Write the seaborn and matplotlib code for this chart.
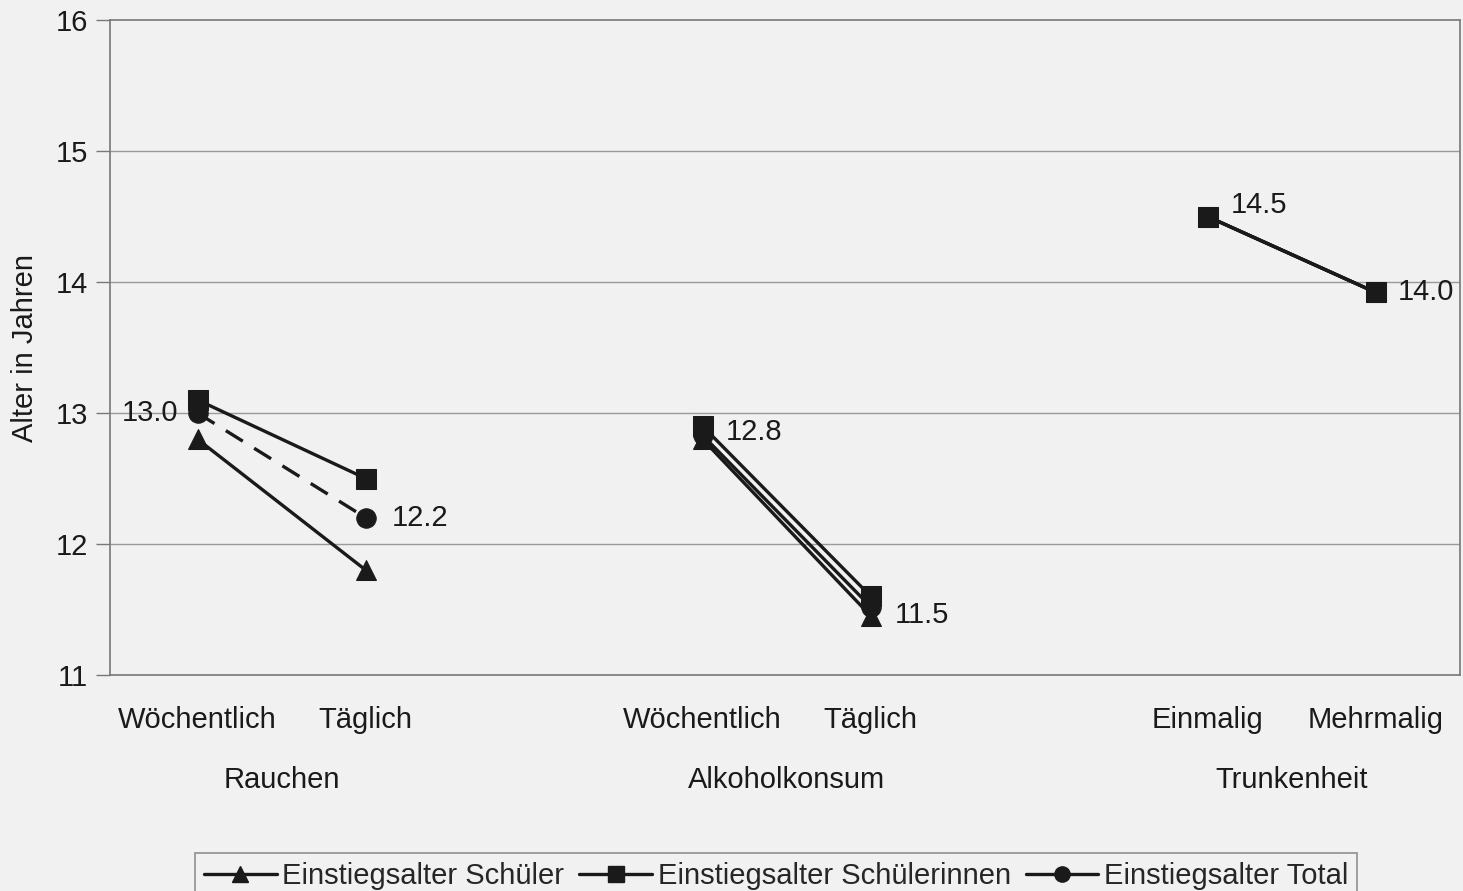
import matplotlib
matplotlib.use("Agg")
import matplotlib.pyplot as plt
import matplotlib.transforms as mtransforms
from matplotlib.lines import Line2D
import seaborn as sns
import pandas as pd

# ---- data ----
groups = ["Rauchen", "Alkoholkonsum", "Trunkenheit"]
categories = [["Wöchentlich", "Täglich"], ["Wöchentlich", "Täglich"], ["Einmalig", "Mehrmalig"]]
series = ["Einstiegsalter Schüler", "Einstiegsalter Schülerinnen", "Einstiegsalter Total"]
schueler = [12.8, 11.8, 12.8, 11.45, 14.5, 13.92]
schuelerinnen = [13.1, 12.5, 12.9, 11.6, 14.5, 13.92]
total = [13.0, 12.2, 12.83, 11.52, 14.5, 13.92]
labels_text = ["13.0", "12.2", "12.8", "11.5", "14.5", "14.0"]
yticks = [11, 12, 13, 14, 15, 16]

sns.set_theme(style="white")
plt.rcParams["font.family"] = ["Liberation Sans", "DejaVu Sans"]

bg = "#f1f1f1"
FS = 21
fig = plt.figure(figsize=(14.63, 8.91), dpi=100, facecolor=bg)
W, H = 1463, 891
ax = fig.add_axes([110 / W, (H - 675) / H, (1460 - 110) / W, 655 / H])
ax.set_facecolor(bg)

# build long table
rows = []
vals = {series[0]: schueler, series[1]: schuelerinnen, series[2]: total}
for s in series:
    for gi, g in enumerate(groups):
        for ci, c in enumerate(categories[gi]):
            idx = gi * 2 + ci
            rows.append({"series": s, "group": g, "cat": c, "pos": gi * 3 + ci, "value": vals[s][idx]})
df = pd.DataFrame(rows)

markers = {series[0]: "^", series[1]: "s", series[2]: "o"}
for s in series:
    for g in groups:
        sub = df[(df.series == s) & (df.group == g)]
        dashed = (s == series[2] and g == "Rauchen")
        sns.lineplot(data=sub, x="pos", y="value", ax=ax, color="#1a1a1a",
                     linewidth=2.4, marker=markers[s], markersize=14,
                     markeredgecolor="#1a1a1a", linestyle=(0, (6, 4)) if dashed else "-",
                     legend=False, zorder=3)

# data labels
lab_pos = [(0, total[0], "right", -14, 0), (1, total[1], "left", 19, 0),
           (3, schuelerinnen[2], "left", 17, -4), (4, total[3], "left", 17, -6),
           (6, schueler[4], "left", 17, 8), (7, schueler[5], "left", 16, 0)]
for (p, v, ha, dx, dy), t in zip(lab_pos, labels_text):
    ax.annotate(t, (p, v), xytext=(dx, dy), textcoords="offset points",
                ha=ha, va="center", fontsize=FS, color="#1a1a1a")

ax.set_xlim(-0.52, 7.5)
ax.set_ylim(11, 16)
ax.set_yticks(yticks)
ax.set_yticklabels([str(t) for t in yticks], fontsize=FS, color="#1a1a1a")
ax.tick_params(axis="y", length=10, width=1, color="#777777", pad=6, left=True)
ax.set_xticks([])
ax.set_xlabel("")
ax.set_ylabel("Alter in Jahren", fontsize=FS, color="#1a1a1a", labelpad=12)
for y in [12, 13, 14, 15]:
    ax.axhline(y, color="#9a9a9a", linewidth=1, zorder=1)
for sp in ax.spines.values():
    sp.set_color("#777777")
    sp.set_linewidth(1.2)
    sp.set_visible(True)

# category and group labels
trans = mtransforms.blended_transform_factory(ax.transData, ax.transAxes)
for gi, g in enumerate(groups):
    for ci, c in enumerate(categories[gi]):
        ax.text(gi * 3 + ci, -45 / 655, c, transform=trans, ha="center", va="center",
                fontsize=FS, color="#1a1a1a")
    ax.text(gi * 3 + 0.5, -105 / 655, g, transform=trans, ha="center", va="center",
            fontsize=FS, color="#1a1a1a")

# legend
handles = [Line2D([], [], color="#1a1a1a", linewidth=2.4, marker=markers[s], markersize=11)
           for s in series]
leg = fig.legend(handles, series, loc="upper left", bbox_to_anchor=(195 / W, 1 - 853 / H),
                 ncol=3, frameon=True, handlelength=2.5, handletextpad=0.2,
                 columnspacing=0.5, borderpad=0.3, borderaxespad=0, fancybox=False,
                 prop={"family": ["Liberation Sans", "DejaVu Sans"], "size": FS})
leg.get_frame().set_edgecolor("#777777")
leg.get_frame().set_facecolor(bg)
leg.get_frame().set_linewidth(1.2)

fig.savefig("out.png", dpi=100, facecolor=bg)
